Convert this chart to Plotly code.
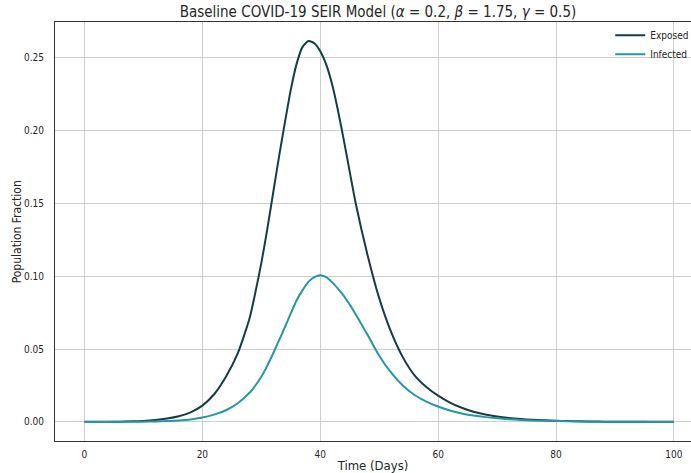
import plotly.graph_objects as go

days = [0, 2, 4, 6, 8, 10, 12, 14, 16, 18, 20, 22, 24, 26, 28, 29, 30, 31, 32, 33, 34, 35, 36,
        37, 38, 39, 40, 41, 42, 43, 44, 46, 48, 50, 52, 54, 56, 58, 60, 62, 64, 66, 68, 70,
        72, 74, 76, 78, 80, 82, 84, 86, 88, 90, 92, 94, 96, 98, 100]

exposed = [0.0001, 0.0001, 0.0001, 0.0002, 0.0004, 0.0007, 0.0013, 0.0023, 0.0039, 0.0066,
           0.0112, 0.0190, 0.0310, 0.0470, 0.0710, 0.0890, 0.1090, 0.1320, 0.1570, 0.1820,
           0.2055, 0.2280, 0.2460, 0.2575, 0.2615, 0.2600, 0.2545, 0.2455, 0.2320, 0.2140,
           0.1935, 0.1505, 0.1150, 0.0850, 0.0620, 0.0445, 0.0320, 0.0240, 0.0180, 0.0133,
           0.0097, 0.0070, 0.0051, 0.0037, 0.0027, 0.0020, 0.0015, 0.0011, 0.0008, 0.0006,
           0.0004, 0.0003, 0.0002, 0.00015, 0.0001, 0.0001, 0.0001, 0.0001, 0.0001]

infected = [0.0000, 0.0000, 0.0000, 0.0001, 0.0001, 0.0002, 0.0003, 0.0006, 0.0010, 0.0017,
            0.0030, 0.0050, 0.0080, 0.0128, 0.0200, 0.0250, 0.0310, 0.0385, 0.0470, 0.0560,
            0.0650, 0.0745, 0.0835, 0.0905, 0.0962, 0.0995, 0.1007, 0.0995, 0.0960, 0.0915,
            0.0865, 0.0740, 0.0600, 0.0455, 0.0340, 0.0250, 0.0185, 0.0140, 0.0106, 0.0078,
            0.0058, 0.0044, 0.0033, 0.0025, 0.0019, 0.0014, 0.0010, 0.0008, 0.0006, 0.0005,
            0.0003, 0.0002, 0.0002, 0.0001, 0.0001, 0.0001, 0.0000, 0.0000, 0.0000]

x_ticks = [0, 20, 40, 60, 80, 100]
y_ticks = [0.00, 0.05, 0.10, 0.15, 0.20, 0.25]
y_tick_labels = ["0.00", "0.05", "0.10", "0.15", "0.20", "0.25"]

FONT = "DejaVu Sans Condensed, DejaVu Sans"
TXT = "#262626"

fig = go.Figure()
fig.add_trace(go.Scatter(x=days, y=exposed, mode="lines", name="Exposed",
                         line=dict(color="#163c44", width=2, shape="spline", smoothing=0.6)))
fig.add_trace(go.Scatter(x=days, y=infected, mode="lines", name="Infected",
                         line=dict(color="#2696a3", width=2, shape="spline", smoothing=0.6)))

fig.update_layout(
    width=691, height=473,
    margin=dict(l=55, r=0, t=22, b=32, autoexpand=False),
    paper_bgcolor="white", plot_bgcolor="white",
    font=dict(family=FONT, size=10, color=TXT),
    title=dict(text="Baseline COVID-19 SEIR Model (<i>α</i> = 0.2, <i>β</i> = 1.75, <i>γ</i> = 0.5)",
               x=0.547, xanchor="center", y=0.975, yanchor="middle",
               font=dict(family=FONT, size=15, color=TXT)),
    showlegend=True,
    legend=dict(x=0.873, xanchor="left", y=1.003, yanchor="top", bgcolor="rgba(0,0,0,0)",
                font=dict(family=FONT, size=10, color=TXT), itemwidth=30),
    annotations=[dict(text="Population Fraction", xref="paper", yref="paper",
                      x=-0.06, y=0.5, xanchor="center", yanchor="middle", textangle=-90,
                      showarrow=False, font=dict(family=FONT, size=12, color=TXT))],
)
fig.update_xaxes(range=[-5, 102.9], tickvals=x_ticks, showgrid=True, gridcolor="#cfcfcf",
                 gridwidth=1, showline=True, linecolor="#333333", linewidth=1, mirror=True,
                 ticks="", zeroline=False, automargin=False, ticklabelstandoff=4,
                 title=dict(text="Time (Days)", font=dict(family=FONT, size=13, color=TXT),
                            standoff=2))
fig.update_yaxes(range=[-0.0131, 0.2746], tickvals=y_ticks, ticktext=y_tick_labels,
                 showgrid=True, gridcolor="#cfcfcf", gridwidth=1, showline=True,
                 linecolor="#333333", linewidth=1, mirror=False, ticks="", zeroline=False,
                 automargin=False, ticklabelstandoff=8)

fig.write_html("out.html", config={"displayModeBar": False},
               post_script="document.body.style.margin='0';")
